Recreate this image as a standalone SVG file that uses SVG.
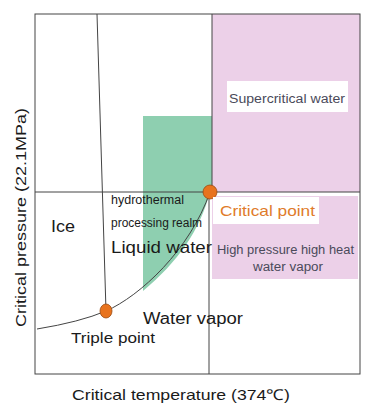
<svg xmlns="http://www.w3.org/2000/svg" width="373" height="412" viewBox="0 0 373 412">
<style>
text{font-family:"Liberation Sans",Arial,sans-serif;fill:#1a1a1a}
.ln{stroke:#444;stroke-width:1;fill:none}
.dot{fill:#e8731e;stroke:#9a4a10;stroke-width:0.8}
.pink{fill:#ecd0e8}
</style>
<rect width="373" height="412" fill="#fff"/>
<g id="regions">
<rect class="pink" x="212" y="14" width="148" height="178"/>
<rect class="pink" x="212" y="196" width="146" height="83"/>
<path d="M143,116 H212 V192 L210,192 C200,230 178,262 143,291 Z" fill="#8ecfb0"/>
</g>
<g id="connectors">
<rect class="ln" x="35" y="14" width="325" height="360"/>
<line class="ln" x1="35" y1="192" x2="360" y2="192"/>
<line class="ln" x1="212" y1="14" x2="212" y2="192"/>
<line class="ln" x1="209" y1="192" x2="209" y2="374"/>
<line class="ln" x1="97" y1="14" x2="106" y2="311"/>
<path class="ln" d="M37,329 Q80,322 106,311 C140,296 190,250 210,192"/>
</g>
<g id="supercritical">
<rect x="227" y="81" width="121" height="31" fill="#fff"/>
<text x="229" y="103" font-size="12.5" textLength="116" lengthAdjust="spacingAndGlyphs" style="fill:#4a4a5a">Supercritical water</text>
</g>
<g id="critical-point">
<circle class="dot" cx="210" cy="192" r="7"/>
<rect x="213" y="197" width="106" height="27" fill="#fff"/>
<text x="220" y="216" font-size="14.5" textLength="95" lengthAdjust="spacingAndGlyphs" style="fill:#e07b2a">Critical point</text>
</g>
<g id="high-pressure">
<text x="217" y="254" font-size="12" textLength="137" lengthAdjust="spacingAndGlyphs" style="fill:#4a4a5a">High pressure high heat</text>
<text x="253" y="271" font-size="12" textLength="70" lengthAdjust="spacingAndGlyphs" style="fill:#4a4a5a">water vapor</text>
</g>
<g id="ice"><text x="51" y="232" font-size="16" textLength="24" lengthAdjust="spacingAndGlyphs">Ice</text></g>
<g id="hydrothermal">
<text x="111" y="204" font-size="12" textLength="73" lengthAdjust="spacingAndGlyphs">hydrothermal</text>
<text x="111" y="227" font-size="12" textLength="91" lengthAdjust="spacingAndGlyphs">processing realm</text>
</g>
<g id="liquid-water"><text x="111" y="253" font-size="16.5" textLength="101" lengthAdjust="spacingAndGlyphs">Liquid water</text></g>
<g id="water-vapor"><text x="143" y="324" font-size="16" textLength="100" lengthAdjust="spacingAndGlyphs">Water vapor</text></g>
<g id="triple-point">
<ellipse class="dot" cx="106" cy="311" rx="6" ry="7"/>
<text x="71" y="343" font-size="15" textLength="84" lengthAdjust="spacingAndGlyphs">Triple point</text>
</g>
<g id="x-axis"><text x="72" y="400" font-size="15" textLength="218" lengthAdjust="spacingAndGlyphs">Critical temperature (374℃)</text></g>
<g id="y-axis"><text transform="translate(26,327) rotate(-90)" font-size="15" textLength="219" lengthAdjust="spacingAndGlyphs">Critical pressure (22.1MPa)</text></g>
</svg>
